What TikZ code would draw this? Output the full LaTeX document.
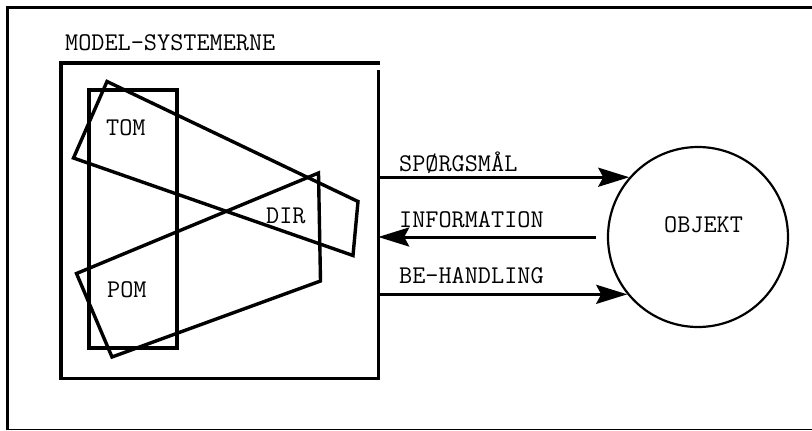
\documentclass[tikz,border=0pt]{standalone}
\usepackage{fontspec}
\usetikzlibrary{arrows.meta}
\begin{document}
\begin{tikzpicture}[x=1pt,y=-1pt,
  lbl/.style={font=\fontsize{25.5}{25.5}\selectfont\ttfamily\addfontfeatures{FakeBold=0.6}, inner sep=0pt, anchor=base west},
  heavy/.style={line width=3.4pt, line join=miter},
  arr/.style={line width=3pt, -{Stealth[length=31pt,width=19pt,inset=5pt]}}]
\useasboundingbox (0,0) rectangle (812,431);
% outer frame
\draw[line width=3pt] (812,7) -- (7,7) -- (7,429.5);
\draw[line width=1.8pt] (7,429.5) -- (812,429.5);
% inner box
\node[minimum width=317pt, minimum height=315pt, inner sep=0pt] (box) at (219.5,220.5) {};
\draw[heavy] ([xshift=2pt]box.north east) -- (box.north west) -- (box.south west) -- (box.south east) -- ([yshift=-7pt]box.north east);
% vertical rectangle
\draw[heavy] (89,90) rectangle (177,348);
% tilted quadrilaterals
\draw[heavy] (107,81.5) -- (358,201.5) -- (353,255.5) -- (73.5,158) -- cycle;
\draw[heavy] (76.5,273.5) -- (318.5,173) -- (320.5,281) -- (112,357) -- cycle;
% labels in the model box
\node[lbl] (title) at (65,50) {MODEL-SYSTEMERNE};
\node[lbl] (tom) at (106,135) {TOM};
\node[lbl] (dir) at (266,223) {DIR};
\node[lbl] (pom) at (107,297) {POM};
% object circle
\node[circle, draw, line width=2.2pt, minimum size=180pt, inner sep=0pt] (obj) at (698,237) {};
\node[lbl] (objtext) at (664,232) {OBJEKT};
% arrows
\draw[arr] (obj.139 -| box.east) -- (obj.139);
\draw[arr] ([xshift=-11pt]obj.west) -- (obj.west -| box.east);
\draw[arr] (obj.219.3 -| box.east) -- (obj.219.3);
\node[lbl] (q) at (399,171) {SPØRGSMÅL};
\node[lbl] (info) at (399,227) {INFORMATION};
\node[lbl] (beh) at (399,283) {BE-HANDLING};
\end{tikzpicture}
\end{document}
